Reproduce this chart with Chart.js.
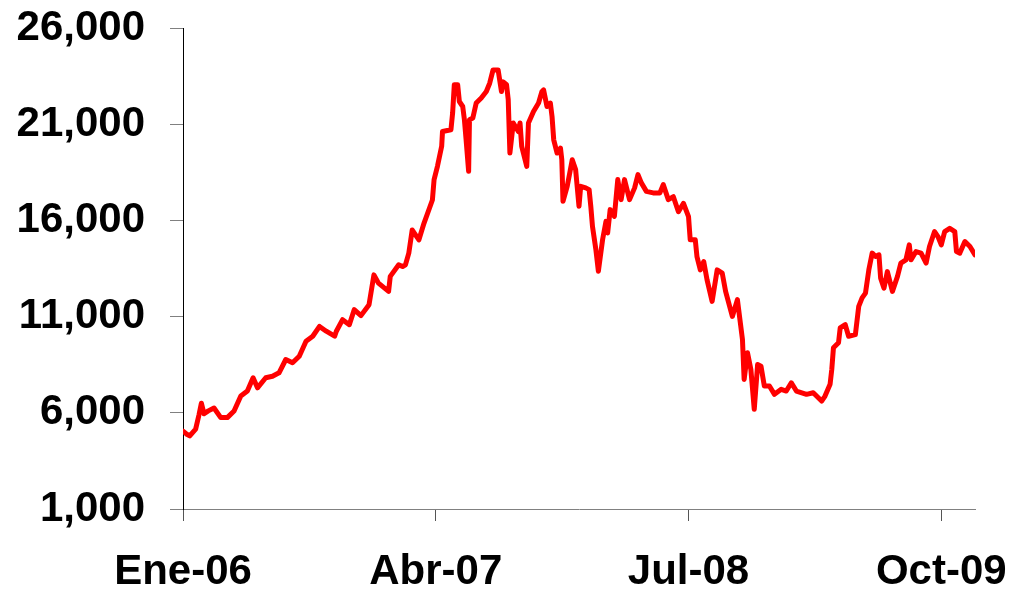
<!DOCTYPE html>
<html>
<head>
<meta charset="utf-8">
<script src="https://cdn.jsdelivr.net/npm/chart.js@4"></script>
<style>
  html, body { margin: 0; padding: 0; background: #fff; }
  #wrap { width: 1011px; height: 593px; }
</style>
</head>
<body>
<div id="wrap"><canvas id="lineChart" width="1011" height="593"></canvas></div>
<script>
// months counted from Ene-06 (0 = January 2006)
const months = [
  0.0, 0.2, 0.4, 0.75, 0.95, 1.09, 1.25, 1.5, 1.84, 2.24,
  2.63, 3.03, 3.43, 3.82, 4.16, 4.42, 4.91, 5.31, 5.7, 6.1,
  6.5, 6.9, 7.3, 7.7, 8.1, 8.5, 9.0, 9.1, 9.47, 9.87,
  10.16, 10.56, 11.04, 11.33, 11.6, 12.2, 12.3, 12.8, 13.03, 13.2,
  13.4,
  13.6, 14.0, 14.3, 14.8, 14.9, 15.1, 15.35, 15.4, 15.9, 16.0,
  16.1, 16.3, 16.4, 16.6, 16.7, 16.8, 16.95, 17.0, 17.2, 17.4,
  17.7, 18.0, 18.2, 18.4, 18.7, 18.9, 19.0, 19.2, 19.3, 19.4,
  19.6, 19.9, 20.0, 20.1, 20.4, 20.5, 20.8, 21.1, 21.3, 21.4,
  21.6, 21.8, 21.9, 22.0, 22.2, 22.4, 22.48, 22.55, 22.8, 23.1,
  23.3, 23.5, 23.6, 23.9, 24.1, 24.2, 24.3, 24.5, 24.65, 24.9,
  25.1, 25.2, 25.35, 25.6, 25.8, 26.0, 26.2, 26.5, 26.8, 27.0,
  27.2, 27.5, 27.9, 28.3, 28.5, 28.8,
  29.1, 29.4, 29.7, 30.0, 30.1, 30.4, 30.5, 30.7, 30.9, 31.1,
  31.4, 31.7, 32.0, 32.2, 32.6, 32.9, 33.2, 33.3, 33.5, 33.7,
  33.9, 34.1, 34.3, 34.5, 34.8, 35.1, 35.5, 35.8, 36.1, 36.4,
  37.0, 37.4, 37.9, 38.1, 38.4, 38.5, 38.6, 38.9, 39.0, 39.3,
  39.5, 39.9, 40.1, 40.3, 40.5, 40.7, 40.9, 41.1, 41.3, 41.4,
  41.6, 41.8, 42.1, 42.3, 42.4, 42.6, 42.9, 43.1, 43.2, 43.5,
  43.8, 44.1, 44.3, 44.6, 44.8, 45.0, 45.2, 45.5, 45.8, 45.9,
  46.1, 46.4, 46.7, 47.0
];
const values = [
  5050, 4900, 4800, 5150, 5900, 6500, 5950, 6100, 6250, 5750,
  5750, 6090, 6870, 7130, 7820, 7300, 7820, 7900, 8080, 8770,
  8600, 8940, 9720, 9980, 10490, 10240, 9980, 10240, 10840, 10580,
  11360, 11050, 11620, 13170, 12740, 12310, 13090, 13690, 13600, 13690,
  14300,
  15500, 14990, 15850, 17060, 18120, 18810, 19850, 20620, 20710, 21580,
  23050, 23050, 22180, 21920, 21230, 20190, 18550, 21230, 21320, 22100,
  22360, 22700, 23130, 23820, 23820, 22700, 23200, 23050, 22280, 19500,
  21060, 20620, 21060, 19850, 18810, 21060, 21660, 22100, 22700, 22780,
  21920, 22100, 21400, 20190, 19500, 19760, 19150, 16990, 17770, 19150,
  18640, 16730, 17770, 17690, 17600, 16730, 15690, 14490, 13360, 15000,
  15950, 15350, 16560, 16210, 18120, 17080, 18120, 17080, 17690, 18380,
  17950, 17510, 17430, 17430, 17860, 17080,
  17230, 16450, 16890, 16190, 14990, 14990, 14120, 13430, 13860, 12910,
  11790, 13430, 13260, 12310, 11010, 11880, 9810, 7730, 9120, 8250,
  6180, 8510, 8420, 7390, 7390, 6960, 7220, 7130, 7560, 7130,
  6960, 7040, 6610, 6870, 7480, 8250, 9380, 9640, 10410, 10580,
  9980, 10060, 11530, 11970, 12220, 13430, 14300, 14120, 14210, 13000,
  12480, 13340, 12310, 12830, 13090, 13780, 13950, 14730, 13950, 14380,
  14300, 13780, 14640, 15420, 15160, 14730, 15420, 15590, 15420, 14380,
  14300, 14900, 14640, 14210
];
const tickMonths = [0, 15, 30, 45];
const tickLabels = ["Ene-06", "Abr-07", "Jul-08", "Oct-09"];
const yTicks = [1000, 6000, 11000, 16000, 21000, 26000];

const points = months.map((m, i) => ({ x: m, y: values[i] }));
const axisFont = { family: "'Liberation Sans', Arial, sans-serif", size: 42, weight: "bold" };

const chart = new Chart(document.getElementById("lineChart"), {
  type: "line",
  data: {
    datasets: [{
      data: points,
      borderColor: "#FF0000",
      borderWidth: 5,
      pointRadius: 0,
      tension: 0,
      fill: false,
      borderJoinStyle: "round",
      borderCapStyle: "round"
    }]
  },
  options: {
    responsive: false,
    animation: false,
    events: [],
    layout: { padding: { top: 28, right: 36, left: 0, bottom: 0 } },
    plugins: { legend: { display: false }, tooltip: { enabled: false } },
    scales: {
      x: {
        type: "linear",
        min: 0,
        max: 47,
        afterBuildTicks: (scale) => { scale.ticks = tickMonths.map(v => ({ value: v })); },
        afterFit: (scale) => {
          scale.height = 84;
          scale.paddingLeft = 0;
          scale.paddingRight = 0;
        },
        border: { color: "#808080", width: 1 },
        grid: { drawOnChartArea: false, drawTicks: true, tickLength: 12, color: "#555555" },
        ticks: {
          color: "#000",
          font: axisFont,
          padding: 26,
          maxRotation: 0,
          autoSkip: false,
          callback: (v) => tickLabels[tickMonths.indexOf(v)]
        }
      },
      y: {
        min: 1000,
        max: 26000,
        afterBuildTicks: (scale) => { scale.ticks = yTicks.map(v => ({ value: v })); },
        afterFit: (scale) => {
          scale.width = 183;
          scale.paddingTop = 0;
          scale.paddingBottom = 0;
        },
        border: { color: "#000", width: 1 },
        grid: { drawOnChartArea: false, drawTicks: true, tickLength: 13, color: "#808080" },
        ticks: {
          color: "#000",
          font: axisFont,
          padding: 25,
          callback: (v) => v.toLocaleString("en-US")
        }
      }
    }
  }
});
</script>
</body>
</html>
